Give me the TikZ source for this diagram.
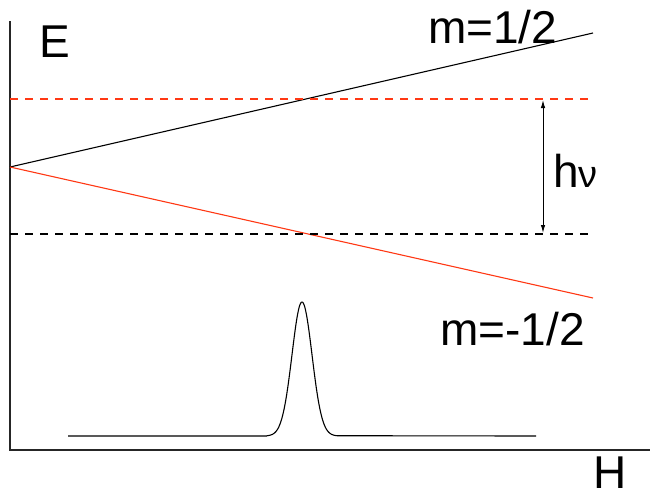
\documentclass[tikz,border=0pt]{standalone}
\usepackage{fontspec}
\setmainfont{Liberation Sans}
\usetikzlibrary{arrows.meta}
\definecolor{lred}{RGB}{255,56,20}
\begin{document}
\begin{tikzpicture}[x=1pt,y=-1pt,
  axis/.style={line width=1.1pt, black!85},
  level/.style={line width=1.1pt},
  dashlevel/.style={line width=1.1pt, dash pattern=on 8pt off 7pt},
  lbl/.style={inner sep=0pt, anchor=base west, font=\fontsize{46}{52}\selectfont},
  gap/.style={line width=1pt, {Latex[length=8pt,width=4.5pt]}-{Latex[length=8pt,width=4.5pt]}}]
\useasboundingbox (0,0) rectangle (650,499);
% axes
\coordinate (ytop) at (10,21);
\coordinate (orig) at (10,450);
\coordinate (xend) at (650,450);
\draw[axis] (ytop) -- (orig) -- (xend);
% levels
\coordinate (start) at (10,167);
\coordinate (upend) at (593,33);
\coordinate (downend) at (593,298);
\draw[level, black] (start) -- (upend);
\draw[level, lred] (start) -- (downend);
% dashed levels
\coordinate (rdA) at (10,99);
\coordinate (rdB) at (593,99);
\coordinate (bdA) at (10,234);
\coordinate (bdB) at (593,234);
\draw[dashlevel, lred] (rdA) -- (rdB);
\draw[dashlevel, black] (bdA) -- (bdB);
% energy gap arrow
\coordinate (gtop) at (543,100);
\coordinate (gbot) at (543,233);
\draw[gap] (gtop) -- (gbot);
% absorption line
\coordinate (bl) at (68,436);
\coordinate (pl) at (267,436);
\coordinate (br) at (536,436);
\draw[level, black, line join=round] (bl) -- (pl)
  plot[domain=267:337, samples=90, smooth] ({\x},{436-134*exp(-((\x-302)/10)^2/2)})
  -- (br);
% labels
\node[lbl] (E) at (39,57) {E};
\node[lbl] (H) at (593,488) {H};
\node[lbl] (mup) at (428,43) {m=1/2};
\node[lbl] (mdn) at (440,345) {m=-1/2};
\node[lbl] (hnu) at (553,187) {h{\fontsize{38}{42}\selectfont ν}};
\end{tikzpicture}
\end{document}
